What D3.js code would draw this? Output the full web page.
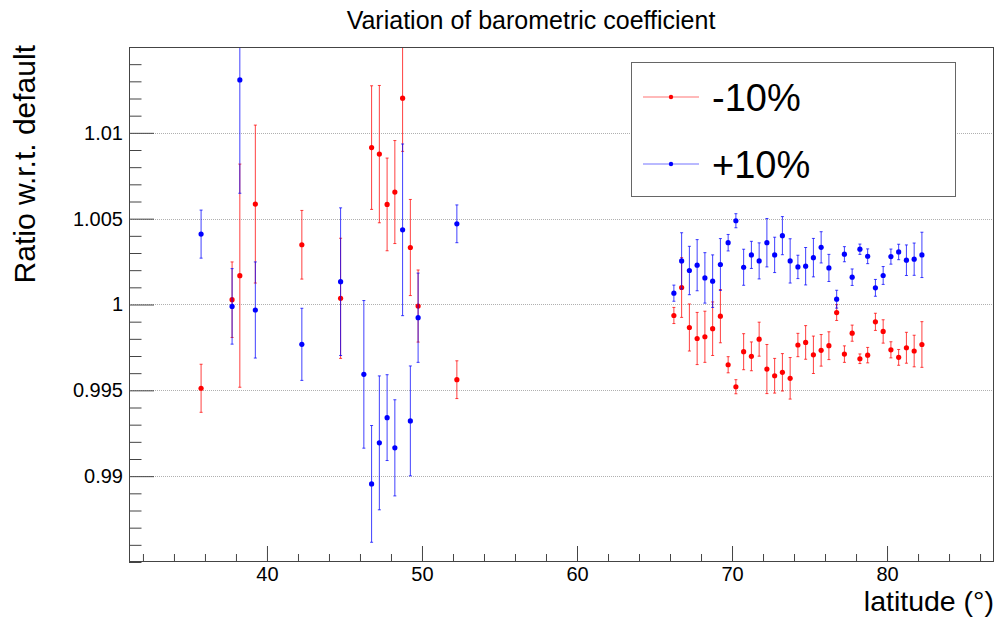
<!DOCTYPE html>
<html>
<head>
<meta charset="utf-8">
<script src="https://cdn.jsdelivr.net/npm/d3@7"></script>
<style>
  html, body { margin: 0; padding: 0; background: #fff; }
  svg { display: block; font-family: "Liberation Sans", Arial, Helvetica, sans-serif; }
</style>
</head>
<body>
<svg id="chart" width="998" height="625"></svg>
<script>
// ---------------- data ----------------
const chartTitle = "Variation of barometric coefficient";
const xTitle = "latitude (°)";
const yTitle = "Ratio w.r.t. default";
const seriesNames = ["-10%", "+10%"];
const seriesColors = ["#ff0000", "#0000ff"];

// -10% series
const latMinus = [35.75, 37.75, 38.25, 39.25, 42.25, 44.75, 46.75, 47.25, 47.75, 48.25, 48.75, 49.25, 49.75, 52.25,
  66.25, 66.75, 67.25, 67.75, 68.25, 68.75, 69.25, 69.75, 70.25, 70.75, 71.25, 71.75, 72.25, 72.75, 73.25, 73.75,
  74.25, 74.75, 75.25, 75.75, 76.25, 76.75, 77.25, 77.75, 78.25, 78.75, 79.25, 79.75, 80.25, 80.75, 81.25, 81.75, 82.25];
const valMinus = [0.99512, 1.00028, 1.00168, 1.00585, 1.00348, 1.00036, 1.00914, 1.00876, 1.00583, 1.00655, 1.01202, 1.00332, 0.99991, 0.99562,
  0.99936, 1.00099, 0.99866, 0.99802, 0.99812, 0.99859, 0.99932, 0.99649, 0.99521, 0.99725, 0.99698, 0.99798, 0.99624, 0.99585,
  0.99605, 0.99570, 0.99764, 0.99779, 0.99707, 0.99733, 0.99760, 0.99953, 0.99711, 0.99833, 0.99684, 0.99705, 0.99899, 0.99843,
  0.99736, 0.99692, 0.99748, 0.99729, 0.99767];
const errMinus = [0.0014, 0.0022, 0.0065, 0.0046, 0.0020, 0.0035, 0.0036, 0.0040, 0.0027, 0.0030, 0.0031, 0.0028, 0.0021, 0.0011,
  0.00047, 0.00174, 0.00137, 0.00152, 0.00149, 0.00156, 0.00155, 0.00047, 0.00041, 0.00105, 0.00084, 0.00099, 0.00143, 0.00101,
  0.00109, 0.00121, 0.00068, 0.00098, 0.00109, 0.00092, 0.00081, 0.00046, 0.00048, 0.00047, 0.00028, 0.00045, 0.00050, 0.00068,
  0.00047, 0.00046, 0.00090, 0.00092, 0.00133];

// +10% series
const latPlus = [35.75, 37.75, 38.25, 39.25, 42.25, 44.75, 46.25, 46.75, 47.25, 47.75, 48.25, 48.75, 49.25, 49.75, 52.25,
  66.25, 66.75, 67.25, 67.75, 68.25, 68.75, 69.25, 69.75, 70.25, 70.75, 71.25, 71.75, 72.25, 72.75, 73.25, 73.75,
  74.25, 74.75, 75.25, 75.75, 76.25, 76.75, 77.25, 77.75, 78.25, 78.75, 79.25, 79.75, 80.25, 80.75, 81.25, 81.75, 82.25];
const valPlus = [1.00410, 0.99989, 1.01308, 0.99968, 0.99768, 1.00133, 0.99593, 0.98955, 0.99194, 0.99341, 0.99165, 1.00435, 0.99322, 0.99923, 1.00470,
  1.00066, 1.00254, 1.00198, 1.00229, 1.00155, 1.00136, 1.00233, 1.00360, 1.00488, 1.00217, 1.00289, 1.00254, 1.00360, 1.00289,
  1.00401, 1.00254, 1.00219, 1.00223, 1.00273, 1.00333, 1.00213, 1.00031, 1.00293, 1.00159, 1.00322, 1.00281, 1.00097, 1.00169,
  1.00279, 1.00306, 1.00258, 1.00264, 1.00289];
const errPlus = [0.0014, 0.0022, 0.0066, 0.0028, 0.0021, 0.0043, 0.0043, 0.0034, 0.0039, 0.0025, 0.0028, 0.0050, 0.0032, 0.0026, 0.0011,
  0.00047, 0.00164, 0.00141, 0.00149, 0.00147, 0.00153, 0.00151, 0.00048, 0.00041, 0.00105, 0.00079, 0.00105, 0.00141, 0.00103,
  0.00111, 0.00129, 0.00068, 0.00109, 0.00112, 0.00091, 0.00079, 0.00052, 0.00044, 0.00048, 0.00030, 0.00043, 0.00049, 0.00052,
  0.00044, 0.00045, 0.00089, 0.00094, 0.00132];

const xMajorTicks = [40, 50, 60, 70, 80];
const yMajorTicks = [0.99, 0.995, 1, 1.005, 1.01];

// ---------------- layout ----------------
const frame = { left: 129, right: 994, top: 47, bottom: 562 };
const svg = d3.select("#chart");

const x = d3.scaleLinear().domain([31.1, 86.9]).range([frame.left, frame.right]);
const y = d3.scaleLinear().domain([0.985, 1.015]).range([frame.bottom, frame.top]);

const series = [
  { name: seriesNames[0], color: seriesColors[0], pts: latMinus.map((d, i) => ({ x: d, y: valMinus[i], e: errMinus[i] })) },
  { name: seriesNames[1], color: seriesColors[1], pts: latPlus.map((d, i) => ({ x: d, y: valPlus[i], e: errPlus[i] })) }
];

// clip
svg.append("defs").append("clipPath").attr("id", "plotclip")
  .append("rect")
  .attr("x", frame.left).attr("y", frame.top)
  .attr("width", frame.right - frame.left).attr("height", frame.bottom - frame.top);

// grid (horizontal, dotted)
svg.append("g").selectAll("line").data(yMajorTicks).join("line")
  .attr("x1", frame.left).attr("x2", frame.right)
  .attr("y1", d => Math.round(y(d)) + 0.5).attr("y2", d => Math.round(y(d)) + 0.5)
  .attr("stroke", "#b0b0b0").attr("stroke-width", 1).attr("stroke-dasharray", "1,1");

// data
const plot = svg.append("g").attr("clip-path", "url(#plotclip)");
series.forEach(s => {
  const g = plot.append("g");
  g.selectAll("line.bar").data(s.pts).join("line").attr("class", "bar")
    .attr("x1", d => x(d.x)).attr("x2", d => x(d.x))
    .attr("y1", d => y(d.y - d.e)).attr("y2", d => y(d.y + d.e))
    .attr("stroke", s.color).attr("stroke-width", 1).attr("stroke-opacity", 0.75);
  g.selectAll("line.capt").data(s.pts).join("line").attr("class", "capt")
    .attr("x1", d => x(d.x) - 1.5).attr("x2", d => x(d.x) + 1.5)
    .attr("y1", d => y(d.y + d.e)).attr("y2", d => y(d.y + d.e))
    .attr("stroke", s.color).attr("stroke-width", 1).attr("stroke-opacity", 0.75);
  g.selectAll("line.capb").data(s.pts).join("line").attr("class", "capb")
    .attr("x1", d => x(d.x) - 1.5).attr("x2", d => x(d.x) + 1.5)
    .attr("y1", d => y(d.y - d.e)).attr("y2", d => y(d.y - d.e))
    .attr("stroke", s.color).attr("stroke-width", 1).attr("stroke-opacity", 0.75);
  g.selectAll("circle").data(s.pts).join("circle")
    .attr("cx", d => x(d.x)).attr("cy", d => y(d.y)).attr("r", 2.6)
    .attr("fill", s.color);
});

// axes
const axisColor = "#444";
const xMinor = d3.range(32, 87, 2).filter(v => v % 10 !== 0);
const yMinor = d3.range(0, 31).map(i => +(0.985 + i * 0.001).toFixed(3)).filter(v => !yMajorTicks.includes(v));

const gx = svg.append("g").attr("transform", `translate(0,${frame.bottom})`)
  .call(d3.axisBottom(x).tickValues(xMajorTicks).tickSize(-16).tickPadding(5).tickFormat(d3.format("d")));
const gxm = svg.append("g").attr("transform", `translate(0,${frame.bottom})`)
  .call(d3.axisBottom(x).tickValues(xMinor).tickSize(-8).tickFormat(""));
const gy = svg.append("g").attr("transform", `translate(${frame.left},0)`)
  .call(d3.axisLeft(y).tickValues(yMajorTicks).tickSize(-25).tickPadding(6).tickFormat(d => String(+d.toFixed(3))));
const gym = svg.append("g").attr("transform", `translate(${frame.left},0)`)
  .call(d3.axisLeft(y).tickValues(yMinor).tickSize(-12.5).tickFormat(""));

[gx, gxm, gy, gym].forEach(g => {
  g.select(".domain").remove();
  g.selectAll(".tick line").attr("stroke", axisColor);
  g.selectAll(".tick text").attr("fill", "#000").style("font-size", "20px")
    .style("font-family", "'Liberation Sans', Arial, Helvetica, sans-serif");
});

// frame
svg.append("rect")
  .attr("x", frame.left + 0.5).attr("y", frame.top + 0.5)
  .attr("width", frame.right - frame.left - 1).attr("height", frame.bottom - frame.top - 1)
  .attr("fill", "none").attr("stroke", axisColor).attr("stroke-width", 1);

// titles
svg.append("text").attr("x", 531).attr("y", 29).attr("text-anchor", "middle")
  .style("font-size", "25px").attr("fill", "#000").text(chartTitle);
svg.append("text").attr("x", 994).attr("y", 611).attr("text-anchor", "end")
  .style("font-size", "28.5px").attr("fill", "#000").text(xTitle);
svg.append("text").attr("transform", "translate(35,45) rotate(-90)").attr("text-anchor", "end")
  .style("font-size", "30px").attr("fill", "#000").text(yTitle);

// legend
const leg = svg.append("g");
leg.append("rect").attr("x", 631.5).attr("y", 62.5).attr("width", 324).attr("height", 134)
  .attr("fill", "#fff").attr("stroke", "#666").attr("stroke-width", 1);
const legY = [97, 164];
series.forEach((s, i) => {
  leg.append("line").attr("x1", 643).attr("x2", 699).attr("y1", legY[i]).attr("y2", legY[i])
    .attr("stroke", s.color).attr("stroke-opacity", 0.55).attr("stroke-width", 1);
  leg.append("circle").attr("cx", 671).attr("cy", legY[i]).attr("r", 2.2).attr("fill", s.color);
  leg.append("text").attr("x", 712).attr("y", legY[i] + 14).style("font-size", "38px")
    .attr("fill", "#000").text(s.name);
});
</script>
</body>
</html>
